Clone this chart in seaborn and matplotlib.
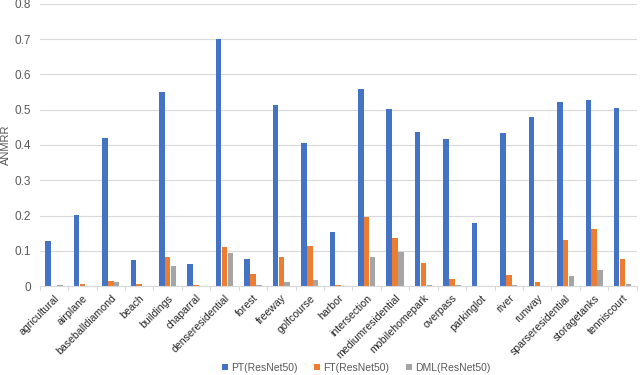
import numpy as np
import pandas as pd
import matplotlib
matplotlib.use("Agg")
import matplotlib.pyplot as plt
import seaborn as sns

categories = ["agricultural", "airplane", "baseballdiamond", "beach", "buildings", "chaparral",
              "denseresidential", "forest", "freeway", "golfcourse", "harbor", "intersection",
              "mediumresidential", "mobilehomepark", "overpass", "parkinglot", "river", "runway",
              "sparseresidential", "storagetanks", "tenniscourt"]
pt_vals = [0.129, 0.201, 0.421, 0.074, 0.551, 0.063, 0.699, 0.078, 0.513, 0.406, 0.154, 0.559,
           0.503, 0.437, 0.417, 0.179, 0.434, 0.480, 0.521, 0.528, 0.506]
ft_vals = [0.000, 0.006, 0.014, 0.006, 0.083, 0.003, 0.112, 0.033, 0.082, 0.113, 0.002, 0.195,
           0.136, 0.066, 0.019, 0.000, 0.032, 0.013, 0.132, 0.161, 0.076]
dml_vals = [0.002, 0.000, 0.011, 0.000, 0.057, 0.000, 0.093, 0.003, 0.013, 0.018, 0.000, 0.082,
            0.097, 0.003, 0.002, 0.000, 0.002, 0.000, 0.028, 0.046, 0.007]
series = ["PT(ResNet50)", "FT(ResNet50)", "DML(ResNet50)"]
colors = ["#4472C4", "#ED7D31", "#A5A5A5"]

df = pd.DataFrame({
    "category": categories * 3,
    "ANMRR": pt_vals + ft_vals + dml_vals,
    "method": np.repeat(series, len(categories)),
})

sns.set_style("white")
plt.rcParams["font.family"] = ["Liberation Sans", "DejaVu Sans"]

fig, ax = plt.subplots(figsize=(6.4, 3.75), dpi=100)
fig.subplots_adjust(left=0.062, right=0.995, top=0.99, bottom=0.237)

sns.barplot(data=df, x="category", y="ANMRR", hue="method", palette=colors,
            width=0.62, gap=0.06, ax=ax, saturation=1, linewidth=0)

ax.set_ylim(0, 0.8)
ax.set_yticks(np.arange(0, 0.81, 0.1))
ax.set_yticklabels(["0"] + [f"{v:.1f}" for v in np.arange(0.1, 0.81, 0.1)])
ax.set_xlim(-0.5, len(categories) - 0.5)
ax.yaxis.grid(True, color="#D9D9D9", linewidth=0.8)
ax.set_axisbelow(True)
for s in ["top", "right", "left"]:
    ax.spines[s].set_visible(False)
ax.spines["bottom"].set_color("#D9D9D9")
ax.tick_params(axis="y", length=0, labelsize=8.5, colors="#595959", pad=6)
ax.set_xticks(np.arange(len(categories)))
ax.set_xticklabels(categories, rotation=45, ha="right", rotation_mode="anchor",
                   fontsize=7.6, color="#262626")
ax.tick_params(axis="x", length=0, pad=5)
# category separator ticks
for i in range(len(categories) + 1):
    ax.plot([i - 0.5, i - 0.5], [0, -0.012], color="#D9D9D9", linewidth=0.8, clip_on=False)
ax.set_xlabel("")
ax.set_ylabel("ANMRR", fontsize=8, color="#595959", labelpad=3)

handles, labels = ax.get_legend_handles_labels()
ax.legend(handles, labels, loc="center", bbox_to_anchor=(0.53, -0.29), ncol=3,
          frameon=False, fontsize=7.5, handlelength=0.55, handleheight=0.55, handletextpad=0.3,
          columnspacing=1.6, labelcolor="#595959")

fig.savefig("out.png", dpi=100)
